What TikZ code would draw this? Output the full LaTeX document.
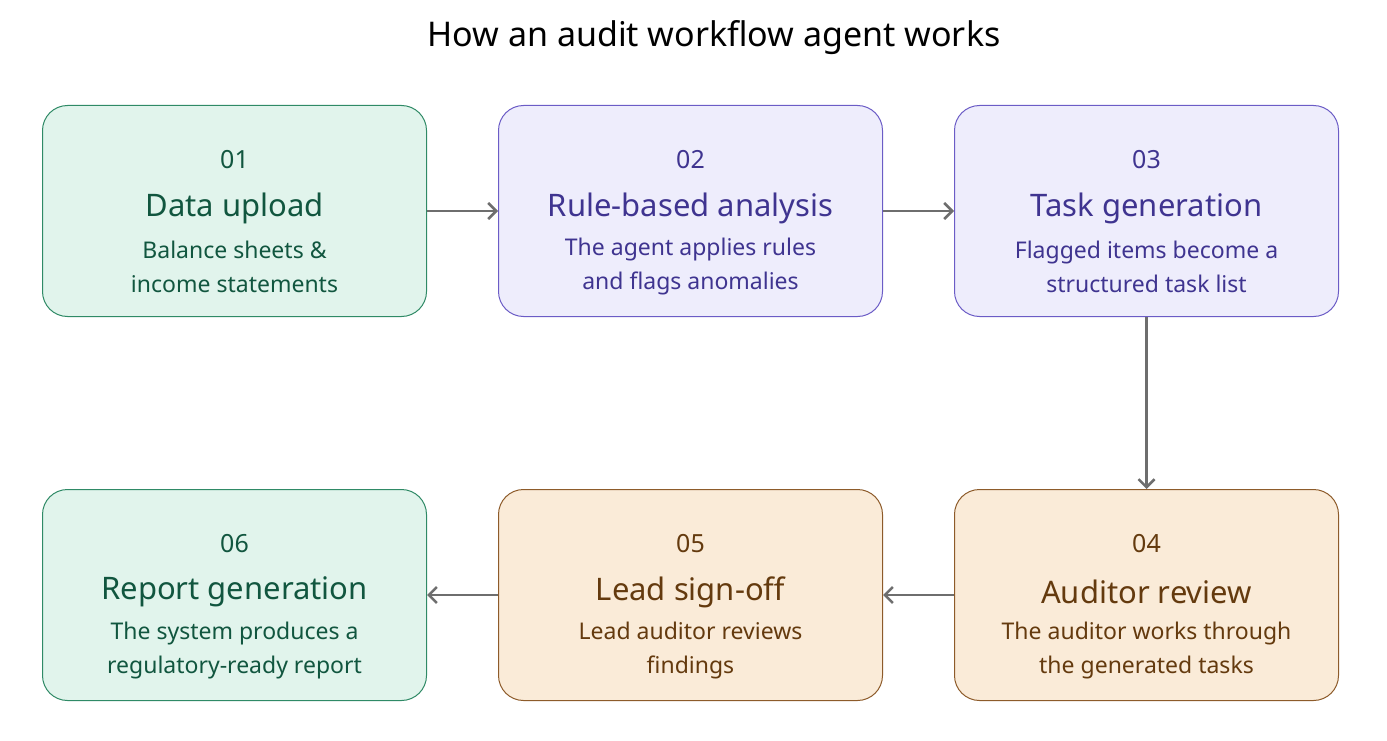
\documentclass[tikz,border=0pt]{standalone}
\usepackage{fontspec}
\setmainfont{Noto Sans}
\usetikzlibrary{arrows.meta}
\definecolor{gF}{HTML}{E1F4EC}\definecolor{gD}{HTML}{2F8A66}\definecolor{gT}{HTML}{11563F}
\definecolor{pF}{HTML}{EEEDFC}\definecolor{pD}{HTML}{6B5CC6}\definecolor{pT}{HTML}{3F3490}
\definecolor{oF}{HTML}{FAEBD8}\definecolor{oD}{HTML}{8D5B2A}\definecolor{oT}{HTML}{643A0E}
\definecolor{ar}{HTML}{6E6E6E}
\begin{document}
\begin{tikzpicture}[x=1pt,y=-1pt,
 box/.style={draw,line width=1pt,rounded corners=25pt,minimum width=384pt,minimum height=211pt,anchor=north west},
 num/.style={font=\fontsize{25}{30}\selectfont},
 ttl/.style={font=\fontsize{31}{36}\selectfont\bfseries},
 bd/.style={font=\fontsize{23}{34}\selectfont,align=center},
 arr/.style={draw=ar,line width=2.5pt,-{Straight Barb[length=8pt,width=16pt]}}]
\useasboundingbox (0,0) rectangle (1387,741);
\node[font=\fontsize{34}{40}\selectfont] (title) at (714,38) {How an audit workflow agent works};
\newcommand{\stepbox}[8]{%
 \node[box,fill=#4,draw=#5] (#1) at (#2,#3) {};
 \node[num,text=#6] (#1n) at ($(#1.north)+(0,55)$) {#7};
 \node[text=#6,anchor=center] (#1t) at ($(#1.north)+(0,134)$) {#8};
}
\usetikzlibrary{calc}
\newcommand{\mk}[9]{%
 \node[box,fill=#4,draw=#5] (#1) at (#2,#3) {};
 \node[num,text=#6] (#1n) at ([yshift=-55pt]#1.north) {#7};
 \node[ttl,text=#6] (#1h) at ([yshift=-103pt]#1.north) {#8};
 \node[bd,text=#6] (#1b) at ([yshift=-162pt]#1.north) {#9};
}
\mk{a}{42}{105}{gF}{gD}{gT}{01}{Data upload}{Balance sheets \&\\income statements}
\mk{b}{498}{105}{pF}{pD}{pT}{02}{Rule-based analysis}{The agent applies rules\\and flags anomalies}
\mk{c}{954}{105}{pF}{pD}{pT}{03}{Task generation}{Flagged items become a\\structured task list}
\mk{d}{954}{489}{oF}{oD}{oT}{04}{Auditor review}{The auditor works through\\the generated tasks}
\mk{e}{498}{489}{oF}{oD}{oT}{05}{Lead sign-off}{Lead auditor reviews\\findings}
\mk{f}{42}{489}{gF}{gD}{gT}{06}{Report generation}{The system produces a\\regulatory-ready report}
\draw[arr] (a.east) -- (b.west);
\draw[arr] (b.east) -- (c.west);
\draw[arr] (c.south) -- (d.north);
\draw[arr] (d.west) -- (e.east);
\draw[arr] (e.west) -- (f.east);
\end{tikzpicture}
\end{document}
